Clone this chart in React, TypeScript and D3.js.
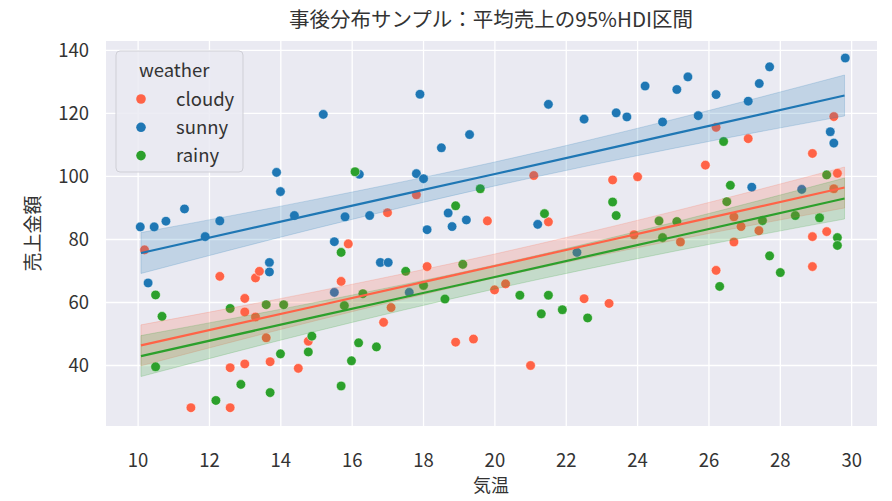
import { area, curveMonotoneX, line, scaleLinear } from 'd3';

// 事後分布サンプル: scatter of 気温 vs 売上金額 by weather, with mean lines + 95% HDI bands.

const categories = ['cloudy', 'sunny', 'rainy'];
const colors: Record<string, string> = { cloudy: '#ff6347', sunny: '#1f77b4', rainy: '#2ca02c' };

const cloudyPts: [number, number][] = [
  [10.18, 76.7], [11.48, 26.6], [12.29, 68.3], [12.58, 39.3], [12.58, 26.6], [12.99, 61.3],
  [12.99, 57.0], [12.99, 40.5], [13.29, 67.8], [13.4, 69.9], [13.29, 55.4], [13.59, 48.8],
  [13.7, 41.2], [14.49, 39.1], [14.77, 47.7], [15.69, 66.7], [15.89, 78.6], [16.88, 53.7],
  [16.99, 88.5], [17.09, 58.4], [17.8, 94.2], [18.1, 71.4], [18.9, 47.4], [19.4, 48.4],
  [19.79, 85.9], [19.99, 64.0], [20.3, 65.9], [21.0, 40.0], [21.09, 100.3], [21.5, 85.6],
  [22.5, 61.2], [23.2, 59.7], [23.3, 98.9], [23.9, 81.5], [24.0, 99.9], [25.2, 79.2],
  [25.9, 103.6], [26.2, 115.6], [26.2, 70.2], [26.7, 87.2], [26.7, 79.2], [26.9, 84.1],
  [27.1, 112.0], [27.4, 82.8], [28.9, 107.3], [28.9, 80.9], [28.9, 71.4], [29.3, 82.5],
  [29.5, 119.0], [29.5, 96.1], [29.6, 101.0],
];

const sunnyPts: [number, number][] = [
  [10.06, 84.0], [10.45, 84.0], [10.78, 85.8], [11.3, 89.7], [11.88, 80.9], [12.29, 85.9],
  [10.28, 66.2], [13.68, 72.7], [13.68, 69.7], [13.88, 101.3], [13.99, 95.2], [14.38, 87.6],
  [15.19, 119.7], [15.5, 79.3], [15.5, 63.2], [15.8, 87.2], [16.2, 100.7], [16.49, 87.6],
  [16.79, 72.7], [17.01, 72.7], [17.6, 63.2], [17.8, 100.9], [17.9, 126.1], [18.0, 99.3],
  [18.1, 83.1], [18.5, 109.1], [18.69, 88.4], [18.8, 84.1], [19.2, 86.2], [19.29, 113.3],
  [21.2, 84.8], [21.5, 122.9], [22.3, 75.9], [22.5, 118.2], [23.4, 120.2], [23.7, 118.9],
  [24.21, 128.7], [24.7, 117.3], [25.1, 127.6], [25.41, 131.6], [25.7, 119.3], [26.2, 126.0],
  [27.1, 123.9], [27.2, 96.6], [27.41, 129.5], [27.7, 134.8], [28.6, 95.9], [29.4, 114.2],
  [29.5, 110.6], [29.82, 137.6],
];

const rainyPts: [number, number][] = [
  [10.49, 62.4], [10.67, 55.6], [10.49, 39.6], [12.18, 28.9], [12.58, 58.1], [12.88, 34.0],
  [13.59, 59.3], [13.7, 31.4], [13.99, 43.7], [14.08, 59.3], [14.77, 44.3], [14.87, 49.3],
  [15.69, 75.9], [15.78, 59.0], [15.69, 33.5], [15.98, 41.5], [16.08, 101.5], [16.18, 47.2],
  [16.3, 62.8], [16.68, 45.9], [17.5, 69.9], [18.0, 65.4], [18.6, 61.1], [18.9, 90.7],
  [19.1, 72.1], [19.59, 96.1], [20.7, 62.3], [21.3, 56.4], [21.39, 88.2], [21.5, 62.3],
  [21.89, 57.7], [22.6, 55.1], [23.3, 91.9], [23.4, 87.6], [24.6, 85.9], [24.7, 80.6],
  [25.1, 85.7], [26.3, 65.1], [26.41, 111.1], [26.5, 92.0], [26.6, 97.2], [27.5, 86.0],
  [27.7, 74.8], [28.0, 69.5], [28.42, 87.6], [29.1, 86.9], [29.3, 100.5], [29.6, 80.6],
  [29.6, 78.1],
];

// HDI band / mean line, read at these temperatures
const bandX = [10.08, 15, 20, 25, 29.8];
const sunnyMean = [75.7, 88.2, 100.8, 113.5, 125.7];
const sunnyLo = [69.2, 83.6, 97.0, 108.9, 119.2];
const sunnyHi = [82.2, 92.8, 104.6, 118.1, 132.2];
const cloudyMean = [46.4, 58.9, 71.6, 84.3, 96.5];
const cloudyLo = [39.9, 54.3, 67.8, 79.7, 90.0];
const cloudyHi = [52.9, 63.5, 75.4, 88.9, 103.0];
const rainyMean = [43.0, 55.5, 68.1, 80.8, 93.0];
const rainyLo = [36.5, 50.9, 64.3, 76.2, 86.5];
const rainyHi = [49.5, 60.1, 71.9, 85.4, 99.5];

const xTicks = [10, 12, 14, 16, 18, 20, 22, 24, 26, 28, 30];
const yTicks = [40, 60, 80, 100, 120, 140];

const points: Record<string, [number, number][]> = { cloudy: cloudyPts, sunny: sunnyPts, rainy: rainyPts };
const bands: Record<string, { mean: number[]; lo: number[]; hi: number[] }> = {
  cloudy: { mean: cloudyMean, lo: cloudyLo, hi: cloudyHi },
  sunny: { mean: sunnyMean, lo: sunnyLo, hi: sunnyHi },
  rainy: { mean: rainyMean, lo: rainyLo, hi: rainyHi },
};

const FONT = '"Noto Sans CJK JP", "Noto Sans", sans-serif';
const INK = '#333';

export default function App() {
  const W = 892;
  const H = 501;
  const m = { left: 106, right: 877, top: 41, bottom: 426 };
  const xs = scaleLinear().domain([9.1, 30.71]).range([m.left, m.right]);
  const ys = scaleLinear().domain([20.8, 143]).range([m.bottom, m.top]);

  const mk = (arr: number[]) => bandX.map((x, i) => ({ x, v: arr[i]! }));
  const bandArea = area<{ x: number; lo: number; hi: number }>()
    .x((d) => xs(d.x))
    .y0((d) => ys(d.lo))
    .y1((d) => ys(d.hi))
    .curve(curveMonotoneX);
  const meanLine = line<{ x: number; v: number }>()
    .x((d) => xs(d.x))
    .y((d) => ys(d.v))
    .curve(curveMonotoneX);

  return (
    <svg width={W} height={H} viewBox={`0 0 ${W} ${H}`} style={{ display: 'block', fontFamily: FONT }}>
      <style>{'body{margin:0;overflow:hidden}'}</style>
      <rect width={W} height={H} fill="#fff" />
      <rect x={m.left} y={m.top} width={m.right - m.left} height={m.bottom - m.top} fill="#eaeaf2" />
      {xTicks.map((t) => (
        <g key={`x${t}`}>
          <line x1={xs(t)} x2={xs(t)} y1={m.top} y2={m.bottom} stroke="#fff" strokeWidth={1.3} />
          <text x={xs(t)} y={467} textAnchor="middle" fill={INK} style={{ fontSize: 18.5 }}>
            {t}
          </text>
        </g>
      ))}
      {yTicks.map((t) => (
        <g key={`y${t}`}>
          <line x1={m.left} x2={m.right} y1={ys(t)} y2={ys(t)} stroke="#fff" strokeWidth={1.3} />
          <text x={89} y={ys(t)} dy="0.36em" textAnchor="end" fill={INK} style={{ fontSize: 18.5 }}>
            {t}
          </text>
        </g>
      ))}

      {categories.map((c) =>
        points[c]!.map(([x, y], i) => (
          <circle key={`${c}${i}`} cx={xs(x)} cy={ys(y)} r={4.8} fill={colors[c]} stroke="#fff" strokeWidth={0.5} />
        )),
      )}

      {categories.map((c) => {
        const b = bands[c]!;
        const band = bandX.map((x, i) => ({ x, lo: b.lo[i]!, hi: b.hi[i]! }));
        return (
          <path key={`b${c}`} d={bandArea(band) ?? undefined} fill={colors[c]} fillOpacity={0.2} stroke={colors[c]} strokeOpacity={0.2} strokeWidth={1} />
        );
      })}
      {categories.map((c) => (
        <path key={`m${c}`} d={meanLine(mk(bands[c]!.mean)) ?? undefined} fill="none" stroke={colors[c]} strokeWidth={2.2} />
      ))}

      <g>
        <rect x={116} y={51} width={127} height={121} rx={4} fill="#eaeaf2" fillOpacity={0.85} stroke="#cfcfd6" strokeWidth={1} />
        <text x={139} y={77} fill={INK} style={{ fontSize: 18.5 }}>
          weather
        </text>
        {categories.map((c, i) => (
          <g key={`l${c}`}>
            <circle cx={141} cy={99 + i * 28.3} r={4.8} fill={colors[c]} />
            <text x={176} y={99 + i * 28.3} dy="0.36em" fill={INK} style={{ fontSize: 18.5 }}>
              {c}
            </text>
          </g>
        ))}
      </g>

      <text x={491} y={27} textAnchor="middle" fill={INK} style={{ fontSize: 20.5 }}>
        事後分布サンプル：平均売上の95%HDI区間
      </text>
      <text x={491} y={492} textAnchor="middle" fill={INK} style={{ fontSize: 18 }}>
        気温
      </text>
      <text transform={`translate(40,${(m.top + m.bottom) / 2}) rotate(-90)`} textAnchor="middle" fill={INK} style={{ fontSize: 19 }}>
        売上金額
      </text>
    </svg>
  );
}
